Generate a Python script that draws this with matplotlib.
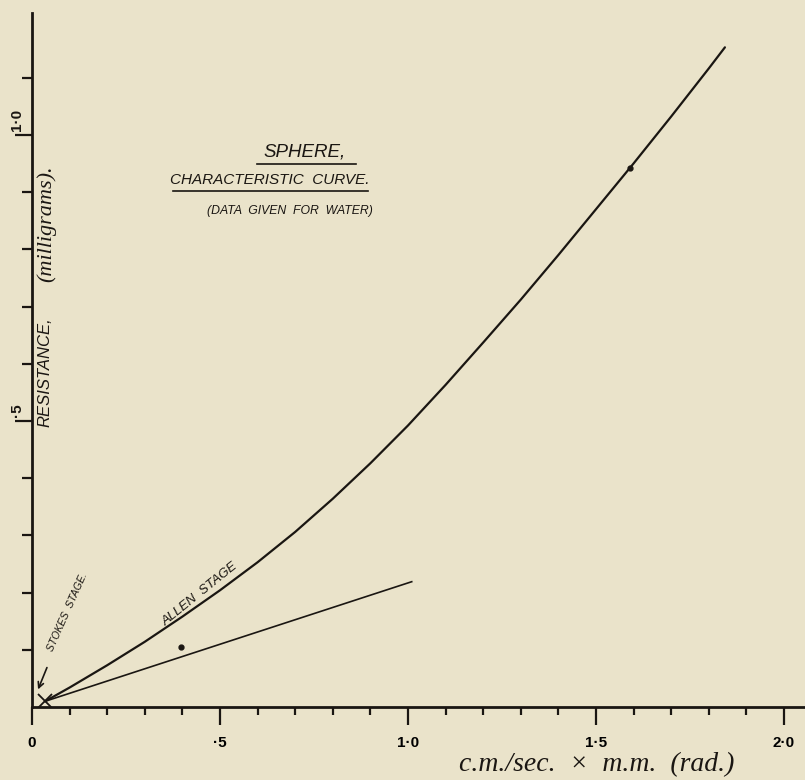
import numpy as np
import matplotlib
matplotlib.use("Agg")
import matplotlib.pyplot as plt
import matplotlib.transforms as mtransforms

# ---- data ----
curve_x = [0.035, 0.1, 0.2, 0.3, 0.4, 0.5, 0.6, 0.7, 0.8, 0.9, 1.0,
           1.1, 1.2, 1.3, 1.4, 1.5, 1.6, 1.7, 1.8, 1.843]
curve_y = [0.010, 0.034, 0.073, 0.114, 0.158, 0.204, 0.253, 0.306, 0.364,
           0.426, 0.492, 0.563, 0.637, 0.712, 0.790, 0.870, 0.950, 1.032,
           1.116, 1.153]
stokes_x = [0.035, 1.01]
stokes_y = [0.010, 0.219]
points_x = [0.396, 1.59]
points_y = [0.105, 0.942]
cross_x, cross_y = 0.035, 0.010

x_major = [0.0, 0.5, 1.0, 1.5, 2.0]
x_major_labels = ["0", "·5", "1·0", "1·5", "2·0"]
x_minor = [0.1, 0.2, 0.3, 0.4, 0.6, 0.7, 0.8, 0.9, 1.1, 1.2, 1.3, 1.4,
           1.6, 1.7, 1.8, 1.9]
y_major = [0.5, 1.0]
y_major_labels = ["·5", "1·0"]
y_minor = [0.1, 0.2, 0.3, 0.4, 0.6, 0.7, 0.8, 0.9, 1.1]

bg = "#eae3ca"
ink = "#1a1612"
hand = ["Liberation Sans", "DejaVu Sans"]
script = ["Liberation Serif", "DejaVu Serif"]

fig = plt.figure(figsize=(8.05, 7.8), dpi=100, facecolor=bg)
ax = fig.add_axes([32/805, 73/780, 773/805, 694/780], facecolor=bg)
ax.set_xlim(0, 2.056)
ax.set_ylim(0, 1.213)

ax.plot(curve_x, curve_y, color=ink, lw=1.6, solid_capstyle="round")
ax.plot(stokes_x, stokes_y, color=ink, lw=1.2)
ax.plot(points_x, points_y, "o", color=ink, ms=3.5)
ax.plot([cross_x], [cross_y], "x", color=ink, ms=10, mew=1.3)

for s in ["top", "right"]:
    ax.spines[s].set_visible(False)
for s in ["left", "bottom"]:
    ax.spines[s].set_linewidth(2.0)
    ax.spines[s].set_color(ink)

ax.set_xticks(x_major)
ax.set_xticklabels(x_major_labels, fontsize=11, fontweight="bold", family=hand)
ax.set_xticks(x_minor, minor=True)
ax.tick_params(axis="x", which="major", direction="out", length=13, width=1.6,
               color=ink, pad=8)
ax.tick_params(axis="x", which="minor", direction="out", length=5.5, width=1.6,
               color=ink)

ax.set_yticks(y_major)
ax.set_yticklabels([])
ax.set_yticks(y_minor, minor=True)
ax.tick_params(axis="y", which="major", direction="out", length=12, width=1.6,
               color=ink)
ax.tick_params(axis="y", which="minor", direction="out", length=7, width=1.6,
               color=ink)
# y tick labels sit just above their (long) tick, rotated like the original
ylab_tr = mtransforms.blended_transform_factory(fig.transFigure, ax.transData)
ylab_tr = ylab_tr + mtransforms.ScaledTranslation(0, 3/72, fig.dpi_scale_trans)
for v, lab in zip(y_major, y_major_labels):
    ax.text(17/805, v, lab, transform=ylab_tr, rotation=90, ha="center",
            va="bottom", fontsize=11, fontweight="bold", family=hand, color=ink)

# axis titles
ax.text(597/805, 1 - 765/780, "c.m./sec.  ×  m.m.  (rad.)", transform=fig.transFigure,
        ha="center", va="center", fontsize=20, style="italic", family=script,
        color=ink)
ax.text(45/805, 1 - 372/780, "RESISTANCE,", transform=fig.transFigure,
        rotation=90, ha="center", va="center", fontsize=12, style="italic",
        family=hand, color=ink)
ax.text(46/805, 1 - 224/780, "(milligrams).", transform=fig.transFigure,
        rotation=90, ha="center", va="center", fontsize=16, style="italic",
        family=script, color=ink)

# titles
ax.text(305/805, 1 - 152/780, "SPHERE,", transform=fig.transFigure,
        ha="center", va="center", fontsize=13.5, style="italic",
        family=hand, color=ink)
ax.text(270/805, 1 - 180/780, "CHARACTERISTIC  CURVE.", transform=fig.transFigure,
        ha="center", va="center", fontsize=11, style="italic",
        family=hand, color=ink)
ax.text(290/805, 1 - 211/780, "(DATA  GIVEN  FOR  WATER)", transform=fig.transFigure,
        ha="center", va="center", fontsize=8.8, style="italic", family=hand,
        color=ink)
fig.lines.append(plt.Line2D([257/805, 356/805], [1 - 164/780, 1 - 164/780],
                            transform=fig.transFigure, color=ink, lw=1.2))
fig.lines.append(plt.Line2D([173/805, 368/805], [1 - 191/780, 1 - 191/780],
                            transform=fig.transFigure, color=ink, lw=1.2))

# stage labels
ax.text(200/805, 1 - 594/780, "ALLEN  STAGE", transform=fig.transFigure,
        rotation=39, ha="center", va="center", fontsize=9.5, style="italic",
        family=hand, color=ink)
ax.text(68/805, 1 - 612/780, "STOKES  STAGE.", transform=fig.transFigure,
        rotation=66, ha="center", va="center", fontsize=7.5, style="italic",
        family=hand, color=ink)
ax.annotate("", xy=(37/805, 1 - 692/780), xytext=(48/805, 1 - 665/780),
            xycoords="figure fraction", textcoords="figure fraction",
            arrowprops=dict(arrowstyle="->", color=ink, lw=1.2))

fig.savefig("out.png", dpi=100, facecolor=bg)
